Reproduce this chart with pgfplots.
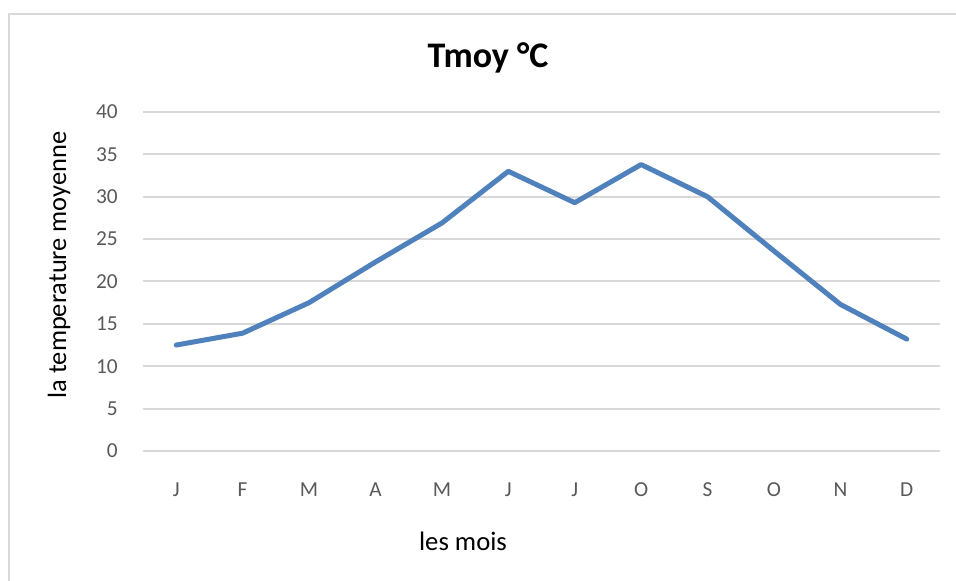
\documentclass[border=0pt]{standalone}
\usepackage{pgfplots}
\pgfplotsset{compat=1.18}
\usepackage{fontspec}
\setmainfont{Carlito}
\definecolor{lineblue}{HTML}{4F81BD}
\definecolor{gridgray}{HTML}{D9D9D9}
\definecolor{ticktext}{HTML}{595959}
\begin{document}
\begin{tikzpicture}
\begin{scope}[x=0.75pt,y=0.75pt]
\useasboundingbox (0,0) rectangle (956,581);
\draw[gridgray, line width=1.5pt] (8.7,0) -- (8.7,567) -- (956,567);
\end{scope}
\begin{axis}[
  at={(107.25pt,97.5pt)}, anchor=south west,
  scale only axis, width=597.75pt, height=254.25pt,
  xmin=-0.5, xmax=11.5, ymin=0, ymax=40,
  ytick={0,5,...,40},
  xtick={0,...,11},
  xticklabels={J,F,M,A,M,J,J,O,S,O,N,D},
  axis line style={draw=none},
  major tick length=0pt,
  ymajorgrids, grid style={gridgray, line width=1.5pt},
  /pgf/number format/assume math mode=true,
  yticklabel style={font=\fontsize{16pt}{18pt}\selectfont, color=ticktext, inner sep=0pt, anchor=east, xshift=-18.75pt},
  xticklabel style={font=\fontsize{16pt}{18pt}\selectfont, color=ticktext, inner sep=0pt, anchor=base, yshift=-34.5pt},
]
\addplot[lineblue, line width=3.75pt, line join=round, line cap=round] coordinates {
  (0,12.5) (1,13.9) (2,17.5) (3,22.3) (4,26.9) (5,33.0)
  (6,29.3) (7,33.8) (8,30.0) (9,23.6) (10,17.3) (11,13.2)
};
\end{axis}
\begin{scope}[x=0.75pt,y=0.75pt]
\node[anchor=base, font=\bfseries\fontsize{27pt}{30pt}\selectfont, inner sep=0pt] at (488,513) {Tmoy °C};
\node[anchor=base, font=\fontsize{20pt}{22pt}\selectfont, inner sep=0pt] at (463,30) {les mois};
\node[rotate=90, font=\fontsize{19.8pt}{22pt}\selectfont, inner sep=0pt] at (59,316) {la temperature moyenne};
\end{scope}
\end{tikzpicture}
\end{document}
